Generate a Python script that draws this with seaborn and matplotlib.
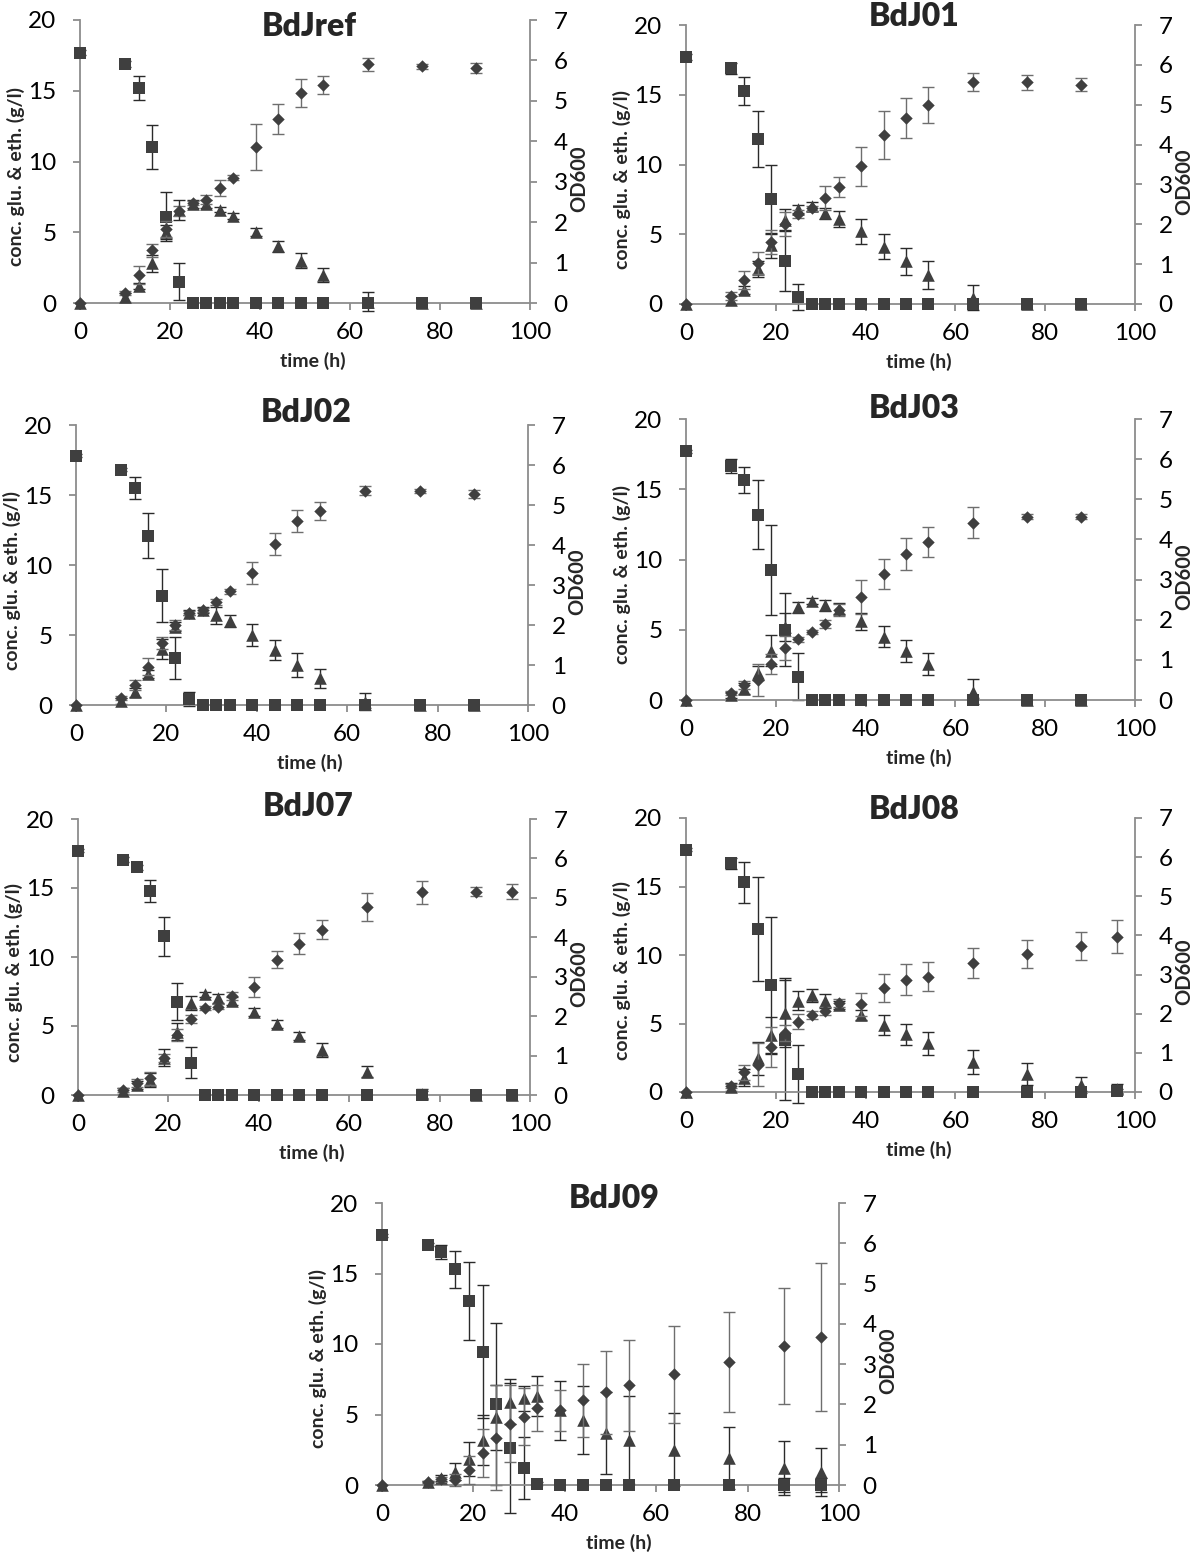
import numpy as np
import pandas as pd
import matplotlib
matplotlib.use("Agg")
import matplotlib.pyplot as plt
import seaborn as sns

# ---------------- data ----------------
time_17 = [0, 10, 13, 16, 19, 22, 25, 28, 31, 34, 39, 44, 49, 54, 64, 76, 88]
time_18 = [0, 10, 13, 16, 19, 22, 25, 28, 31, 34, 39, 44, 49, 54, 64, 76, 88, 96]

# BdJref
ref_glu = [17.7, 16.9, 15.2, 11.0, 6.1, 1.5, 0, 0, 0, 0, 0, 0, 0, 0, 0, 0, 0]
ref_glu_err = [0.2, 0.2, 0.85, 1.55, 1.75, 1.3, 0, 0, 0, 0, 0, 0, 0, 0, 0, 0, 0]
ref_eth = [0, 0.4, 1.2, 2.8, 5.0, 6.6, 7.0, 7.0, 6.6, 6.15, 5.0, 4.0, 3.0, 2.0, 0.1, 0, 0]
ref_eth_err = [0, 0.3, 0.2, 0.6, 0.5, 0.7, 0.3, 0.3, 0.2, 0.2, 0.3, 0.4, 0.5, 0.5, 0.7, 0, 0]
ref_od = [0, 0.25, 0.7, 1.3, 1.83, 2.27, 2.47, 2.56, 2.84, 3.1, 3.85, 4.54, 5.19, 5.4, 5.9, 5.85, 5.81]
ref_od_err = [0, 0.05, 0.22, 0.17, 0.2, 0.12, 0.05, 0.1, 0.2, 0.06, 0.57, 0.37, 0.35, 0.22, 0.15, 0.05, 0.12]

# BdJ01
j01_glu = [17.7, 16.9, 15.3, 11.8, 7.5, 3.1, 0.5, 0, 0, 0, 0, 0, 0, 0, 0, 0, 0]
j01_glu_err = [0.2, 0.4, 1.0, 2.0, 2.5, 2.2, 0.9, 0, 0, 0, 0, 0, 0, 0, 0, 0, 0]
j01_eth = [0, 0.3, 1.0, 2.5, 4.2, 6.0, 6.8, 7.0, 6.5, 6.1, 5.2, 4.1, 3.05, 2.07, 0.45, 0, 0]
j01_eth_err = [0, 0.3, 0.3, 0.6, 0.9, 0.8, 0.3, 0.3, 0.4, 0.6, 0.9, 0.9, 1.0, 1.0, 0.9, 0, 0]
j01_od = [0, 0.2, 0.6, 1.03, 1.56, 2.0, 2.25, 2.4, 2.67, 2.94, 3.45, 4.23, 4.67, 5.0, 5.57, 5.56, 5.5]
j01_od_err = [0, 0.1, 0.22, 0.28, 0.3, 0.3, 0.1, 0.07, 0.3, 0.25, 0.5, 0.6, 0.5, 0.45, 0.22, 0.18, 0.16]

# BdJ02
j02_glu = [17.8, 16.8, 15.5, 12.1, 7.8, 3.35, 0.43, 0, 0, 0, 0, 0, 0, 0, 0, 0, 0]
j02_glu_err = [0.1, 0.1, 0.8, 1.6, 1.9, 1.5, 0.5, 0, 0, 0, 0, 0, 0, 0, 0, 0, 0]
j02_eth = [0, 0.3, 0.9, 2.2, 4.0, 5.6, 6.6, 6.8, 6.4, 6.0, 5.0, 3.95, 2.86, 1.9, 0.25, 0, 0]
j02_eth_err = [0, 0.2, 0.3, 0.3, 0.7, 0.3, 0.2, 0.2, 0.6, 0.4, 0.8, 0.7, 0.85, 0.7, 0.6, 0, 0]
j02_od = [0, 0.17, 0.5, 0.96, 1.55, 2.0, 2.3, 2.38, 2.57, 2.84, 3.3, 4.03, 4.6, 4.85, 5.36, 5.36, 5.28]
j02_od_err = [0, 0.05, 0.12, 0.22, 0.15, 0.12, 0.06, 0.05, 0.08, 0.06, 0.28, 0.28, 0.27, 0.22, 0.12, 0.05, 0.1]

# BdJ03
j03_glu = [17.7, 16.65, 15.65, 13.2, 9.25, 5.0, 1.66, 0, 0, 0, 0, 0, 0, 0, 0, 0, 0]
j03_glu_err = [0.1, 0.5, 0.9, 2.45, 3.2, 2.6, 1.66, 0, 0, 0, 0, 0, 0, 0, 0, 0, 0]
j03_eth = [0, 0.35, 0.8, 1.9, 3.5, 5.2, 6.6, 7.05, 6.75, 6.5, 5.6, 4.5, 3.5, 2.56, 0.6, 0, 0]
j03_eth_err = [0, 0.2, 0.4, 0.5, 1.1, 1.0, 0.4, 0.2, 0.4, 0.4, 0.6, 0.75, 0.8, 0.8, 0.9, 0, 0]
j03_od = [0, 0.17, 0.37, 0.5, 0.9, 1.29, 1.51, 1.7, 1.89, 2.25, 2.57, 3.14, 3.64, 3.93, 4.42, 4.57, 4.57]
j03_od_err = [0, 0.05, 0.1, 0.4, 0.25, 0.3, 0.07, 0.05, 0.1, 0.15, 0.43, 0.38, 0.4, 0.37, 0.38, 0.07, 0.07]

# BdJ07
j07_glu = [17.7, 17.05, 16.5, 14.8, 11.5, 6.75, 2.35, 0, 0, 0, 0, 0, 0, 0, 0, 0, 0, 0]
j07_glu_err = [0.1, 0.2, 0.2, 0.8, 1.4, 1.35, 1.1, 0, 0, 0, 0, 0, 0, 0, 0, 0.3, 0, 0]
j07_eth = [0, 0.3, 0.7, 1.1, 2.7, 4.6, 6.65, 7.3, 7.0, 6.8, 6.0, 5.15, 4.25, 3.27, 1.7, 0.1, 0, 0]
j07_eth_err = [0, 0.2, 0.3, 0.5, 0.6, 0.6, 0.5, 0.2, 0.3, 0.3, 0.3, 0.3, 0.3, 0.5, 0.4, 0.3, 0, 0]
j07_od = [0, 0.13, 0.3, 0.42, 0.93, 1.52, 1.92, 2.2, 2.24, 2.5, 2.74, 3.43, 3.84, 4.19, 4.77, 5.14, 5.16, 5.16]
j07_od_err = [0, 0.05, 0.1, 0.17, 0.1, 0.15, 0.1, 0.05, 0.07, 0.1, 0.25, 0.22, 0.27, 0.24, 0.35, 0.3, 0.12, 0.2]

# BdJ08
j08_glu = [17.7, 16.7, 15.3, 11.9, 7.8, 3.8, 1.3, 0, 0, 0, 0, 0, 0, 0, 0, 0, 0, 0.05]
j08_glu_err = [0.1, 0.4, 1.5, 3.8, 5.0, 4.4, 2.1, 0, 0, 0, 0, 0, 0, 0, 0, 0, 0, 0.2]
j08_eth = [0, 0.35, 1.05, 2.45, 4.15, 5.8, 6.65, 7.05, 6.65, 6.35, 5.6, 4.9, 4.2, 3.55, 2.2, 1.3, 0.5, 0.25]
j08_eth_err = [0, 0.3, 0.6, 1.2, 1.3, 2.5, 0.7, 0.5, 0.5, 0.3, 0.35, 0.75, 0.8, 0.85, 0.9, 0.8, 0.6, 0.3]
j08_od = [0, 0.16, 0.5, 0.7, 1.15, 1.5, 1.8, 1.96, 2.07, 2.27, 2.24, 2.66, 2.87, 2.94, 3.29, 3.53, 3.73, 3.97]
j08_od_err = [0, 0.05, 0.2, 0.55, 0.5, 0.2, 0.2, 0.1, 0.1, 0.1, 0.3, 0.35, 0.4, 0.37, 0.38, 0.35, 0.35, 0.42]

# BdJ09
j09_glu = [17.7, 17.05, 16.55, 15.3, 13.05, 9.45, 5.75, 2.6, 1.22, 0.1, 0, 0, 0, 0, 0, 0, 0, 0]
j09_glu_err = [0.1, 0.1, 0.5, 1.3, 2.75, 4.7, 5.75, 4.6, 2.2, 0.1, 0, 0, 0, 0, 0, 0, 0.5, 0.5]
j09_eth = [0, 0.2, 0.5, 0.95, 1.85, 3.2, 4.8, 5.9, 6.15, 6.3, 5.3, 4.6, 3.7, 3.2, 2.5, 1.9, 1.2, 0.95]
j09_eth_err = [0, 0.1, 0.2, 0.6, 1.2, 1.8, 2.3, 1.6, 0.9, 1.4, 2.1, 2.4, 2.9, 3.1, 2.6, 2.2, 1.9, 1.7]
j09_od = [0, 0.07, 0.14, 0.12, 0.37, 0.8, 1.17, 1.52, 1.7, 1.91, 1.85, 2.1, 2.3, 2.47, 2.75, 3.06, 3.46, 3.67]
j09_od_err = [0, 0.03, 0.06, 0.15, 0.35, 0.6, 1.3, 0.96, 0.7, 0.56, 0.52, 0.91, 1.03, 1.13, 1.2, 1.24, 1.44, 1.83]

titles = ["BdJref", "BdJ01", "BdJ02", "BdJ03", "BdJ07", "BdJ08", "BdJ09"]
x_ticks = [0, 20, 40, 60, 80, 100]
left_ticks = [0, 5, 10, 15, 20]
right_ticks = [0, 1, 2, 3, 4, 5, 6, 7]
left_label = "conc. glu. & eth. (g/l)"
right_label = "OD600"
x_label = "time (h)"

# ---------------- style ----------------
sns.set_theme(style="white")
plt.rcParams['font.family'] = ['Lato', 'DejaVu Sans']

W, H = 1200, 1559
MARK = "#3f3f3f"
AXC = "#8c8c8c"
EB_DARK = "#2a2a2a"
EB_OD = "#6e6e6e"

fig = plt.figure(figsize=(12, 15.59), dpi=100)

# panel boxes in pixels: left, top, right, bottom, title y
boxes = [
    (80, 20, 530, 303, 26),
    (686, 25, 1135, 304, 17),
    (76, 425, 528, 705, 412),
    (686, 419, 1135, 700, 409),
    (78, 819, 530, 1095, 806),
    (686, 818, 1135, 1092, 809),
    (382, 1203, 839, 1485, 1198),
]

panels = [
    (time_17, ref_glu, ref_glu_err, ref_eth, ref_eth_err, ref_od, ref_od_err),
    (time_17, j01_glu, j01_glu_err, j01_eth, j01_eth_err, j01_od, j01_od_err),
    (time_17, j02_glu, j02_glu_err, j02_eth, j02_eth_err, j02_od, j02_od_err),
    (time_17, j03_glu, j03_glu_err, j03_eth, j03_eth_err, j03_od, j03_od_err),
    (time_18, j07_glu, j07_glu_err, j07_eth, j07_eth_err, j07_od, j07_od_err),
    (time_18, j08_glu, j08_glu_err, j08_eth, j08_eth_err, j08_od, j08_od_err),
    (time_18, j09_glu, j09_glu_err, j09_eth, j09_eth_err, j09_od, j09_od_err),
]


def fx(px):
    return px / W


def fy(py):
    return 1 - py / H


def errbars(ax, t, v, e, color, lw):
    t = np.asarray(t, float)
    v = np.asarray(v, float)
    e = np.asarray(e, float)
    m = e > 0
    if m.any():
        ax.errorbar(t[m], v[m], yerr=e[m], fmt='none', ecolor=color,
                    elinewidth=lw, capsize=4.5, capthick=lw, clip_on=False, zorder=2)


def marks(ax, t, v, marker, size):
    df = pd.DataFrame({"t": t, "v": v})
    sns.scatterplot(data=df, x="t", y="v", marker=marker, s=size, color=MARK,
                    edgecolor=MARK, linewidth=0, ax=ax, clip_on=False, zorder=4,
                    legend=False)


for (L, T, R, B, ty), title, (t, glu, glu_e, eth, eth_e, od, od_e) in zip(boxes, titles, panels):
    ax = fig.add_axes([fx(L), fy(B), (R - L) / W, (B - T) / H])
    ax2 = ax.twinx()

    errbars(ax, t, eth, eth_e, EB_DARK, 1.0)
    errbars(ax, t, glu, glu_e, EB_DARK, 1.0)
    marks(ax, t, eth, "^", 82)
    marks(ax, t, glu, "s", 66)

    errbars(ax2, t, od, od_e, EB_OD, 1.0)
    marks(ax2, t, od, "D", 40)

    ax.set_xlim(0, 100)
    ax.set_ylim(0, 20)
    ax2.set_ylim(0, 7)
    ax.set_xticks(x_ticks)
    ax.set_yticks(left_ticks)
    ax2.set_yticks(right_ticks)
    ax.set_xlabel("")
    ax.set_ylabel("")
    ax2.set_ylabel("")

    for a in (ax, ax2):
        for s in a.spines.values():
            s.set_visible(False)
            s.set_color(AXC)
            s.set_linewidth(1.3)
        a.patch.set_visible(False)
        a.grid(False)
    ax.spines['left'].set_visible(True)
    ax.spines['bottom'].set_visible(True)
    ax2.spines['right'].set_visible(True)

    ax.tick_params(axis='x', direction='out', length=5, width=1.3, color=AXC,
                   labelsize=17.5, pad=9, labelcolor='black', bottom=True)
    ax.tick_params(axis='y', direction='out', length=5, width=1.3, color=AXC,
                   labelsize=17.5, pad=12, labelcolor='black', left=True)
    ax2.tick_params(axis='y', direction='out', length=5, width=1.3, color=AXC,
                    labelsize=17.5, pad=12, labelcolor='black', right=True)

    cx = (L + R) / 2
    cy = (T + B) / 2
    fig.text(fx(cx + 4), fy(ty), title, ha='center', va='center',
             fontsize=23, fontweight='heavy')
    fig.text(fx(cx + 8), fy(B + 58), x_label, ha='center', va='center',
             fontsize=14, fontweight='bold')
    fig.text(fx(L - 64), fy(cy + 15), left_label, ha='center', va='center',
             rotation=90, fontsize=14, fontweight='bold')
    fig.text(fx(R + 49), fy(cy + 17), right_label, ha='center', va='center',
             rotation=90, fontsize=14.5, fontweight='bold')

fig.savefig("out.png", dpi=100, facecolor="white")
